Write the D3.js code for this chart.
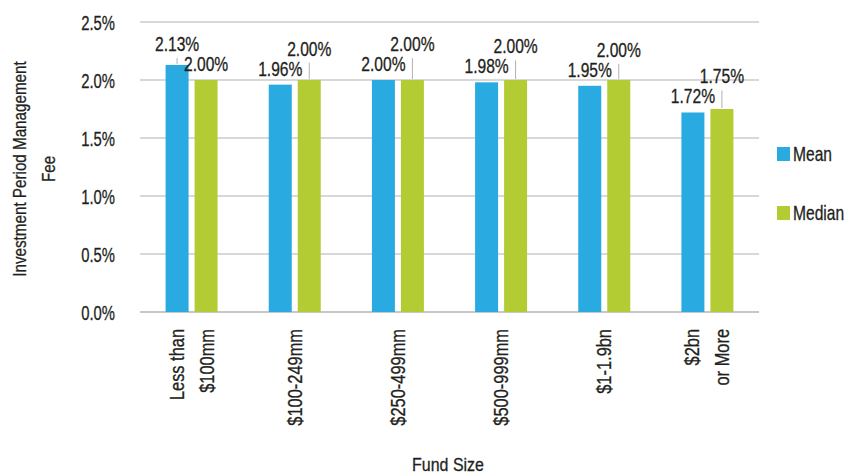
<!DOCTYPE html>
<html><head><meta charset="utf-8">
<script src="https://cdn.jsdelivr.net/npm/d3@7"></script>
<style>
body{margin:0;background:#fff;}
svg{display:block;}
text{font-family:"Liberation Sans",Arial,sans-serif;fill:#231f20;stroke:#231f20;stroke-width:0.3px;}
</style></head>
<body>
<svg id="chart" width="848" height="476"></svg>
<script>
const categories = ["Less than $100mm","$100-249mm","$250-499mm","$500-999mm","$1-1.9bn","$2bn or More"];
const categoryLines = [["Less than","$100mm"],["$100-249mm"],["$250-499mm"],["$500-999mm"],["$1-1.9bn"],["$2bn","or More"]];
const seriesNames = ["Mean","Median"];
const meanValues = [2.13,1.96,2.00,1.98,1.95,1.72];
const medianValues = [2.00,2.00,2.00,2.00,2.00,1.75];
const yTicks = [0,0.5,1.0,1.5,2.0,2.5];
const colors = ["#29abe2","#b4cc34"];

(function(){
const svg = d3.select("#chart");
const mLeft = 140, mRight = 759, mTop = 22, mBottom = 312;

// compress text horizontally to mimic a condensed face
function squeeze(sel, f){
  sel.each(function(){
    const w = this.getComputedTextLength();
    this.setAttribute("textLength", (w*f).toFixed(2));
    this.setAttribute("lengthAdjust","spacingAndGlyphs");
  });
}

const x0 = d3.scaleBand().domain(categories).range([mLeft,mRight]).padding(0);
const pairW = 52;
const x1 = d3.scaleBand().domain(seriesNames).range([0,pairW]).paddingInner(0.207).paddingOuter(0);
const y = d3.scaleLinear().domain([0,2.5]).range([mBottom,mTop]);

// gridlines
svg.append("g").selectAll("line").data(yTicks).join("line")
  .attr("x1",mLeft).attr("x2",mRight)
  .attr("y1",d=>y(d)).attr("y2",d=>y(d))
  .attr("stroke",d=>d===0?"#b4b4b4":"#cbcbcb").attr("stroke-width",1.5);

// y axis labels
const yAxis = d3.axisLeft(y).tickValues(yTicks).tickSize(0).tickPadding(0)
  .tickFormat(d=>d3.format(".1f")(d)+"%");
const yg = svg.append("g").attr("transform",`translate(115,0)`).call(yAxis);
yg.attr("font-family",null).attr("font-size",null);
yg.select(".domain").remove();
yg.selectAll("text").attr("font-size",20).attr("fill","#231f20").attr("dy","0.35em");
squeeze(yg.selectAll("text"),0.74);

const data = categories.map((c,i)=>({cat:c, vals:[meanValues[i],medianValues[i]]}));

const groups = svg.append("g").selectAll("g").data(data).join("g")
  .attr("transform",d=>`translate(${x0(d.cat)+x0.bandwidth()/2-pairW/2},0)`);

groups.selectAll("rect").data(d=>d.vals.map((v,k)=>({s:seriesNames[k],v,k}))).join("rect")
  .attr("x",d=>x1(d.s)).attr("width",x1.bandwidth())
  .attr("y",d=>y(d.v)).attr("height",d=>y(0)-y(d.v))
  .attr("fill",d=>colors[d.k]);

// data labels with simple collision handling
groups.each(function(d){
  const g = d3.select(this);
  const tops = d.vals.map(v=>y(v));
  const base = tops.map(t=>t-9);
  const hi = d.vals[0] > d.vals[1] ? 0 : 1;
  const lo = 1-hi;
  const pos = base.slice();
  pos[hi] = Math.min(base[hi], base[lo]-20);
  d.vals.forEach((v,k)=>{
    const cx = x1(seriesNames[k]) + x1.bandwidth()/2;
    if (tops[k] - (pos[k]+7) > 3) {
      g.append("line").attr("x1",cx).attr("x2",cx)
        .attr("y1",pos[k]+7).attr("y2",tops[k]-1)
        .attr("stroke","#b0b0b0").attr("stroke-width",1);
    }
    const t = g.append("text").attr("x",cx).attr("y",pos[k])
      .attr("text-anchor","middle").attr("font-size",20)
      .text(d3.format(".2f")(v)+"%");
    squeeze(t,0.78);
  });
});

// x category labels
const xg = svg.append("g").selectAll("g").data(categories).join("g")
  .attr("transform",(c)=>`translate(${x0(c)+x0.bandwidth()/2},329) rotate(-90)`);
xg.each(function(c,i){
  const lines = categoryLines[i];
  lines.forEach((ln,j)=>{
    const t = d3.select(this).append("text").attr("text-anchor","end").attr("font-size",20)
      .attr("x",0).attr("y",(j-(lines.length-1)/2)*30).attr("dy","0.35em").text(ln);
    squeeze(t,0.82);
  });
});

// axis titles
const xt = svg.append("text").attr("x",448).attr("y",471).attr("text-anchor","middle")
  .attr("font-size",19).text("Fund Size");
squeeze(xt,0.84);
const ytg = svg.append("g").attr("transform","translate(19,169) rotate(-90)");
["Investment Period Management","Fee"].forEach((ln,j)=>{
  const t = ytg.append("text").attr("x",0).attr("y",j*29).attr("dy","0.35em")
    .attr("text-anchor","middle").attr("font-size",19).text(ln);
  squeeze(t,0.8);
});

// legend
const lg = svg.append("g").selectAll("g").data(seriesNames).join("g")
  .attr("transform",(s,i)=>`translate(777,${147+i*59})`);
lg.append("rect").attr("width",13).attr("height",14).attr("fill",(s,i)=>colors[i]).attr("stroke","none");
lg.append("g").attr("transform","translate(16,14) scale(0.78,1)")
  .append("text").attr("x",0).attr("y",0).attr("font-size",20).text(s=>s);
})();
</script>
</body></html>
